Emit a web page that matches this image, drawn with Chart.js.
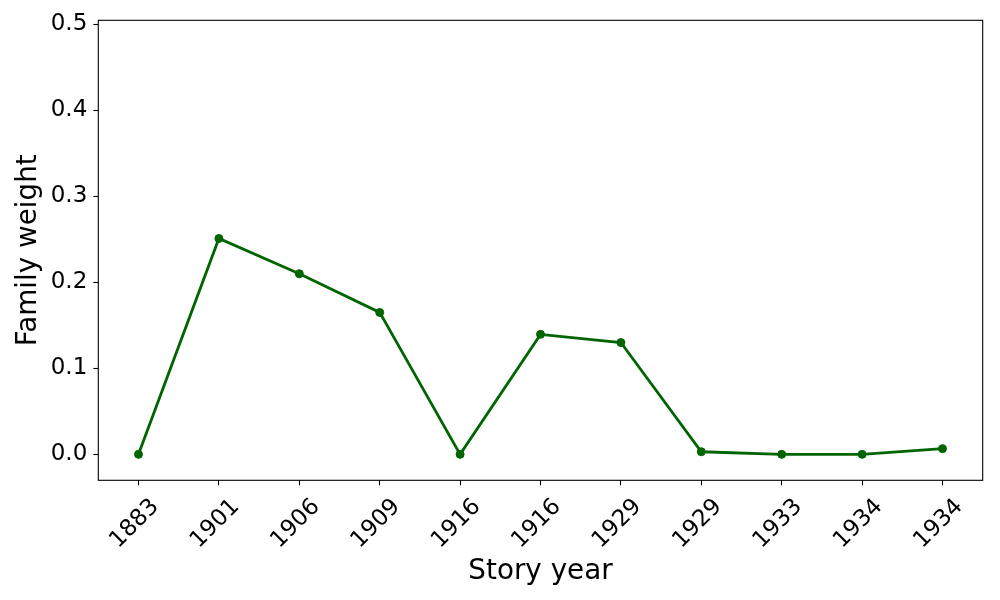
<!DOCTYPE html>
<html>
<head>
<meta charset="utf-8">
<script src="https://cdn.jsdelivr.net/npm/chart.js@4/dist/chart.umd.min.js"></script>
<style>
html, body { margin: 0; padding: 0; background: #fff; }
#wrap { width: 1000px; height: 600px; position: relative; }
</style>
</head>
<body>
<div id="wrap"><canvas id="c"></canvas></div>
<script>
const storyYears = ['1883', '1901', '1906', '1909', '1916', '1916', '1929', '1929', '1933', '1934', '1934'];
const familyWeights = [0, 0.251, 0.210, 0.165, 0, 0.1395, 0.130, 0.003, 0, 0, 0.0066];
const yTickValues = [0, 0.1, 0.2, 0.3, 0.4, 0.5];
const yMin = -0.0302;
const yMax = 0.5047;

const FONT = "'DejaVu Sans', sans-serif";

const framePlugin = {
  id: 'frame',
  afterDraw(chart) {
    const a = chart.chartArea;
    const ctx = chart.ctx;
    ctx.save();
    ctx.strokeStyle = '#000';
    ctx.lineWidth = 1.1;
    ctx.strokeRect(a.left, a.top, a.right - a.left, a.bottom - a.top);
    ctx.restore();
  }
};

new Chart(document.getElementById('c'), {
  type: 'line',
  data: {
    labels: storyYears,
    datasets: [{
      data: familyWeights,
      borderColor: '#006400',
      backgroundColor: '#006400',
      borderWidth: 2.8,
      pointRadius: 4,
      pointBorderWidth: 1,
      pointBackgroundColor: '#006400',
      pointBorderColor: '#006400',
      tension: 0,
      fill: false,
      clip: false
    }]
  },
  options: {
    responsive: true,
    maintainAspectRatio: false,
    animation: false,
    layout: { padding: { top: 20.3, right: 17.3, bottom: 0, left: 0 } },
    plugins: {
      legend: { display: false },
      tooltip: { enabled: false }
    },
    scales: {
      x: {
        type: 'category',
        offset: true,
        grid: { display: true, drawOnChartArea: false, drawTicks: true, tickLength: 5, tickColor: '#000', tickWidth: 1.1, offset: false },
        border: { display: false },
        ticks: {
          autoSkip: false,
          minRotation: 45,
          maxRotation: 45,
          padding: 8,
          labelOffset: 17,
          color: '#000',
          font: { family: FONT, size: 23 }
        },
        title: {
          display: true,
          text: 'Story year',
          color: '#000',
          font: { family: FONT, size: 27.8 },
          padding: { top: 0, bottom: 12 }
        },
        afterFit(scale) { scale.height = 119.7; }
      },
      y: {
        type: 'linear',
        min: yMin,
        max: yMax,
        afterBuildTicks(scale) { scale.ticks = yTickValues.map(v => ({ value: v })); },
        grid: { display: true, drawOnChartArea: false, drawTicks: true, tickLength: 5, tickColor: '#000', tickWidth: 1.1 },
        border: { display: false },
        ticks: {
          padding: 6,
          color: '#000',
          font: { family: FONT, size: 23 },
          callback: v => Number(v).toFixed(1)
        },
        title: {
          display: true,
          text: 'Family weight',
          color: '#000',
          font: { family: FONT, size: 27.8 },
          padding: { top: 12, bottom: 0 }
        },
        afterFit(scale) { scale.width = 98.3; }
      }
    }
  },
  plugins: [framePlugin]
});
</script>
</body>
</html>
